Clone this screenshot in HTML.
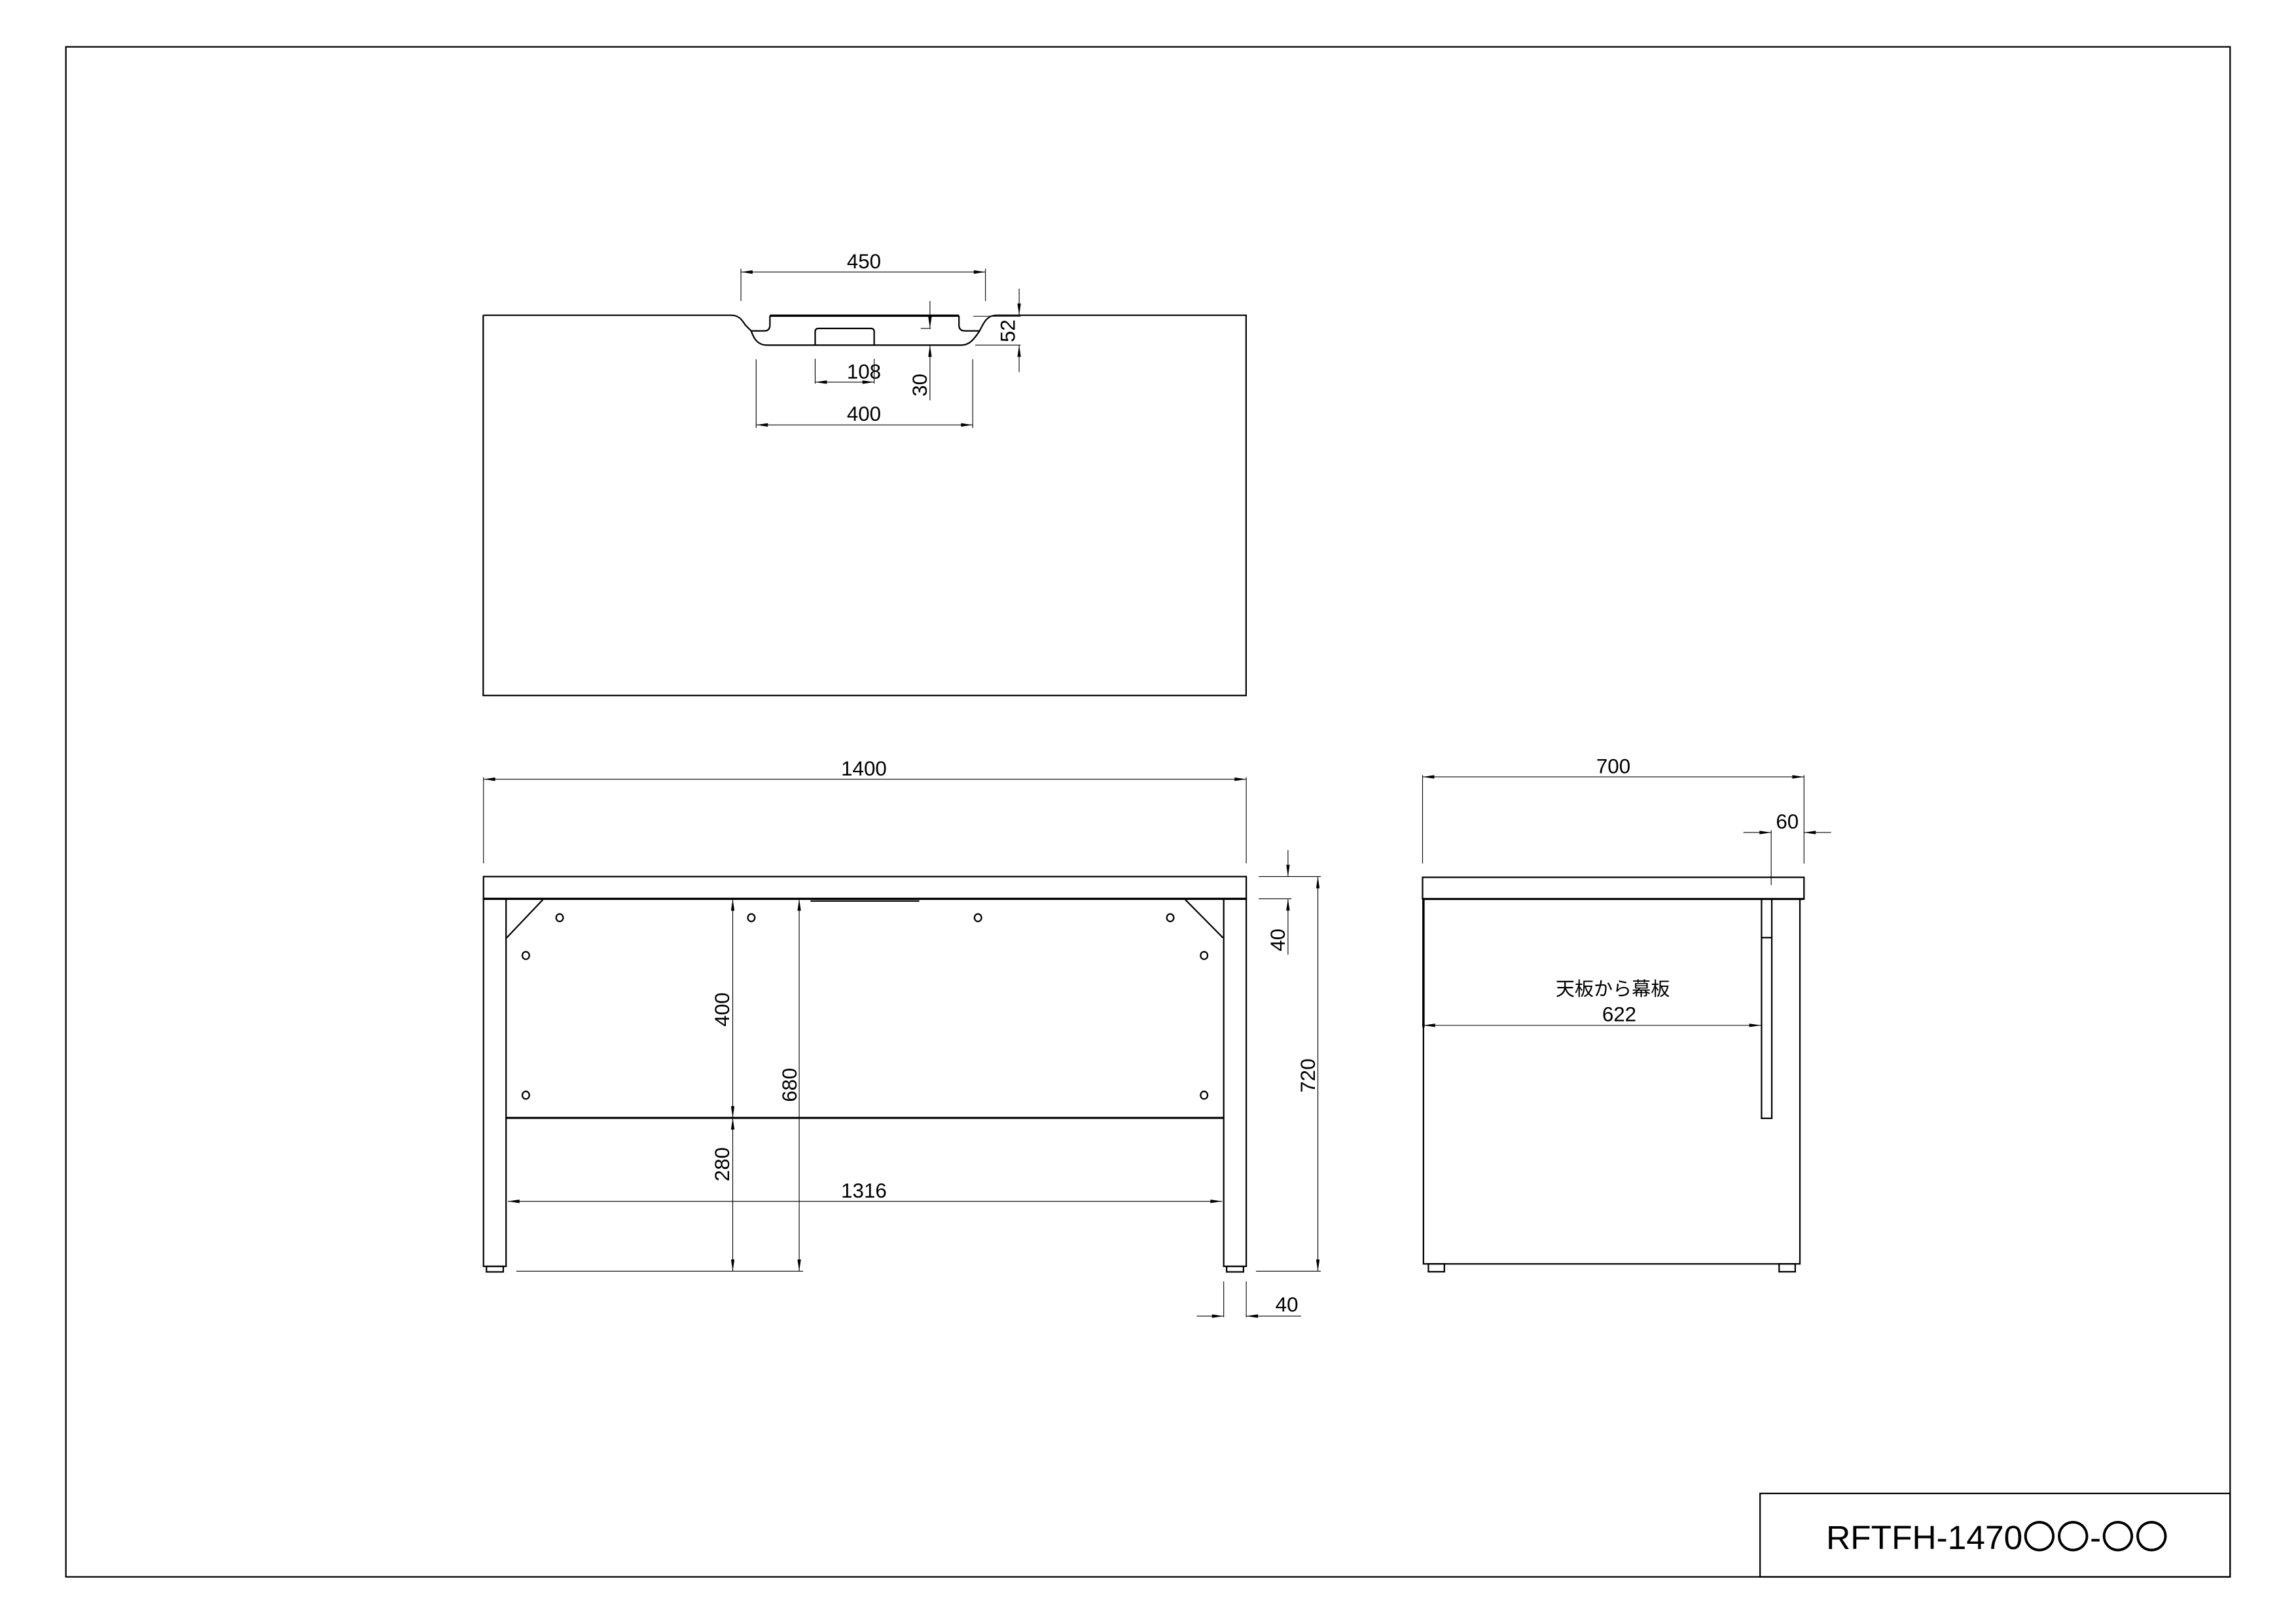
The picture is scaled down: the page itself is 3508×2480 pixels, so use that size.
<!DOCTYPE html>
<html><head><meta charset="utf-8"><style>
html,body{margin:0;padding:0;background:#fff}
svg{display:block}
text{font-family:"Liberation Sans","Noto Sans CJK JP",sans-serif;fill:#000}
</style></head><body>
<svg width="3508" height="2480" viewBox="0 0 1568 1108.5" xmlns="http://www.w3.org/2000/svg">
<defs>
<marker id="a" viewBox="0 0 10 3" refX="10" refY="1.5" markerWidth="9" markerHeight="2.4" markerUnits="userSpaceOnUse" orient="auto-start-reverse"><path d="M0,0L10,1.5L0,3z" fill="#000"/></marker>
</defs>
<rect width="1568" height="1108.5" fill="#fff"/>
<!-- border -->
<rect x="45" y="32" width="1478" height="1045" fill="none" stroke="#000" stroke-width="1"/>
<rect x="1202" y="1020" width="321" height="57" fill="none" stroke="#000" stroke-width="1"/>
<text x="1364" y="1058" font-size="23" text-anchor="middle">RFTFH-1470〇〇-〇〇</text>

<g fill="none" stroke="#000" stroke-width="1">
<!-- TOP VIEW -->
<path d="M330,215.3 V475 H851 V215.3 H680.9"/>
<path d="M330,215.3 H499.3 C505,215.3 507,219 509,222 L513,226"/>
<path d="M513,226 C515,232 518,235.7 523.5,235.7 H656.6 C662,235.7 665,232 669,226"/>
<path d="M513,226 H522 Q525.8,226 525.8,222 V215.6"/>
<path d="M525.8,215.6 H654.9" stroke-width="1.6"/>
<path d="M654.9,215.6 V222 Q654.9,226 659,226 H669"/>
<path d="M669,226 C672,220 674,215.3 680.9,215.3"/>
<path d="M556.7,235.7 V226.5 Q556.7,224.3 559,224.3 H594.7 Q597,224.3 597,226.5 V235.7"/>
</g>
<g fill="none" stroke="#000" stroke-width="0.5">
<!-- 450 -->
<line x1="506" y1="183.5" x2="506" y2="205.6"/><line x1="673" y1="183.5" x2="673" y2="205.6"/>
<line x1="506" y1="185.8" x2="673" y2="185.8" marker-start="url(#a)" marker-end="url(#a)"/>
<!-- 400 -->
<line x1="516.4" y1="245.4" x2="516.4" y2="292.3"/><line x1="664.3" y1="245.4" x2="664.3" y2="292.3"/>
<line x1="516.4" y1="290.2" x2="664.3" y2="290.2" marker-start="url(#a)" marker-end="url(#a)"/>
<!-- 108 -->
<line x1="556.7" y1="245" x2="556.7" y2="262"/><line x1="597" y1="245" x2="597" y2="262"/>
<line x1="556.7" y1="261" x2="597" y2="261" marker-start="url(#a)" marker-end="url(#a)"/>
<!-- 30 -->
<line x1="635.1" y1="205.6" x2="635.1" y2="224.3" marker-end="url(#a)"/>
<line x1="628.8" y1="224.3" x2="635.7" y2="224.3"/>
<line x1="635.1" y1="273.4" x2="635.1" y2="235.7" marker-end="url(#a)"/>
<!-- 52 -->
<line x1="696" y1="197.1" x2="696" y2="215.3" marker-end="url(#a)"/>
<line x1="664.6" y1="216" x2="697" y2="216"/>
<line x1="666" y1="235.7" x2="697" y2="235.7"/>
<line x1="696" y1="254.1" x2="696" y2="235.7" marker-end="url(#a)"/>
</g>
<text x="590" y="183.3" font-size="14" text-anchor="middle">450</text>
<text x="590" y="287.5" font-size="14" text-anchor="middle">400</text>
<text x="590" y="258.5" font-size="14" text-anchor="middle">108</text>
<text transform="translate(633,263) rotate(-90)" font-size="14" text-anchor="middle">30</text>
<text transform="translate(693,226) rotate(-90)" font-size="14" text-anchor="middle">52</text>

<!-- FRONT VIEW -->
<g fill="none" stroke="#000" stroke-width="1">
<rect x="330.2" y="598.7" width="520.9" height="15.2"/>
<line x1="330.2" y1="613.9" x2="851.1" y2="613.9" stroke-width="1.5"/>
<rect x="330.2" y="613.9" width="15.4" height="251"/>
<rect x="835.7" y="613.9" width="15.4" height="251"/>
<rect x="332.2" y="864.9" width="11.5" height="3.8"/>
<rect x="837.7" y="864.9" width="11.5" height="3.8"/>
<line x1="345.6" y1="763.5" x2="835.7" y2="763.5" stroke-width="1.4"/>
<line x1="370.7" y1="614.5" x2="346" y2="640.5"/>
<line x1="809.5" y1="614.5" x2="835.2" y2="640.5"/>
<line x1="553.5" y1="615.4" x2="627.8" y2="615.4"/>
<ellipse cx="382.2" cy="626.8" rx="2.4" ry="2.6"/>
<ellipse cx="513.1" cy="626.8" rx="2.4" ry="2.6"/>
<ellipse cx="667.9" cy="626.8" rx="2.4" ry="2.6"/>
<ellipse cx="799.2" cy="626.8" rx="2.4" ry="2.6"/>
<ellipse cx="359.1" cy="652.6" rx="2.4" ry="2.6"/>
<ellipse cx="822.3" cy="652.6" rx="2.4" ry="2.6"/>
<ellipse cx="359.1" cy="748" rx="2.4" ry="2.6"/>
<ellipse cx="822.3" cy="748" rx="2.4" ry="2.6"/>
</g>
<g fill="none" stroke="#000" stroke-width="0.5">
<line x1="330.2" y1="530.9" x2="330.2" y2="589.7"/><line x1="851.1" y1="530.9" x2="851.1" y2="589.7"/>
<line x1="330.2" y1="532.2" x2="851.1" y2="532.2" marker-start="url(#a)" marker-end="url(#a)"/>
<line x1="500.4" y1="614" x2="500.4" y2="763.5" marker-start="url(#a)" marker-end="url(#a)"/>
<line x1="500.4" y1="763.5" x2="500.4" y2="868.2" marker-start="url(#a)" marker-end="url(#a)"/>
<line x1="545.8" y1="614" x2="545.8" y2="868.2" marker-start="url(#a)" marker-end="url(#a)"/>
<line x1="352.6" y1="868.2" x2="548.5" y2="868.2"/>
<line x1="346.8" y1="820.5" x2="834.6" y2="820.5" marker-start="url(#a)" marker-end="url(#a)"/>
<line x1="879.6" y1="580.6" x2="879.6" y2="598.7" marker-end="url(#a)"/>
<line x1="859.6" y1="598.7" x2="902" y2="598.7"/>
<line x1="859.6" y1="613.9" x2="882" y2="613.9"/>
<line x1="879.6" y1="652.1" x2="879.6" y2="613.9" marker-end="url(#a)"/>
<line x1="900" y1="598.7" x2="900" y2="868.2" marker-start="url(#a)" marker-end="url(#a)"/>
<line x1="857.7" y1="868.2" x2="902" y2="868.2"/>
<line x1="835.7" y1="875.2" x2="835.7" y2="899.7"/><line x1="851.1" y1="875.2" x2="851.1" y2="899.7"/>
<line x1="817.3" y1="898.9" x2="835.7" y2="898.9" marker-end="url(#a)"/>
<line x1="888.5" y1="898.9" x2="851.1" y2="898.9" marker-end="url(#a)"/>
</g>
<text x="590" y="529.6" font-size="14" text-anchor="middle">1400</text>
<text transform="translate(498,689.5) rotate(-90)" font-size="14" text-anchor="middle">400</text>
<text transform="translate(498,795.2) rotate(-90)" font-size="14" text-anchor="middle">280</text>
<text transform="translate(544,741) rotate(-90)" font-size="14" text-anchor="middle">680</text>
<text x="590" y="817.9" font-size="14" text-anchor="middle">1316</text>
<text transform="translate(877.5,642) rotate(-90)" font-size="14" text-anchor="middle">40</text>
<text transform="translate(898,734.6) rotate(-90)" font-size="14" text-anchor="middle">720</text>
<text x="878.8" y="895.8" font-size="14" text-anchor="middle">40</text>

<!-- SIDE VIEW -->
<g fill="none" stroke="#000" stroke-width="1">
<rect x="971.5" y="599.2" width="260.5" height="14.8"/>
<line x1="971.5" y1="614" x2="1232" y2="614" stroke-width="1.4"/>
<path d="M972.1,614 V863.2 H1229.2 V614"/>
<line x1="972.1" y1="614" x2="972.1" y2="701.7" stroke-width="1.6"/>
<rect x="975.5" y="863.2" width="10.9" height="5.4"/>
<rect x="1215" y="863.2" width="11" height="5.4"/>
<rect x="1203" y="614" width="7" height="149.8"/>
<line x1="1203" y1="640.4" x2="1210" y2="640.4"/>
</g>
<g fill="none" stroke="#000" stroke-width="0.5">
<line x1="971.5" y1="529.4" x2="971.5" y2="589.8"/><line x1="1232" y1="529.4" x2="1232" y2="589.8"/>
<line x1="971.5" y1="530.6" x2="1232" y2="530.6" marker-start="url(#a)" marker-end="url(#a)"/>
<line x1="1209.6" y1="567" x2="1209.6" y2="604.6"/>
<line x1="1190.6" y1="568.6" x2="1209.6" y2="568.6" marker-end="url(#a)"/>
<line x1="1250.5" y1="568.6" x2="1232" y2="568.6" marker-end="url(#a)"/>
<line x1="972.1" y1="700.3" x2="1202.6" y2="700.3" marker-start="url(#a)" marker-end="url(#a)"/>
</g>
<text x="1101.8" y="528.2" font-size="14" text-anchor="middle">700</text>
<text x="1220.6" y="565.8" font-size="14" text-anchor="middle">60</text>
<text x="1101.4" y="679.9" font-size="13" text-anchor="middle">天板から幕板</text>
<text x="1105.8" y="697.5" font-size="14" text-anchor="middle">622</text>
</svg>
</body></html>
